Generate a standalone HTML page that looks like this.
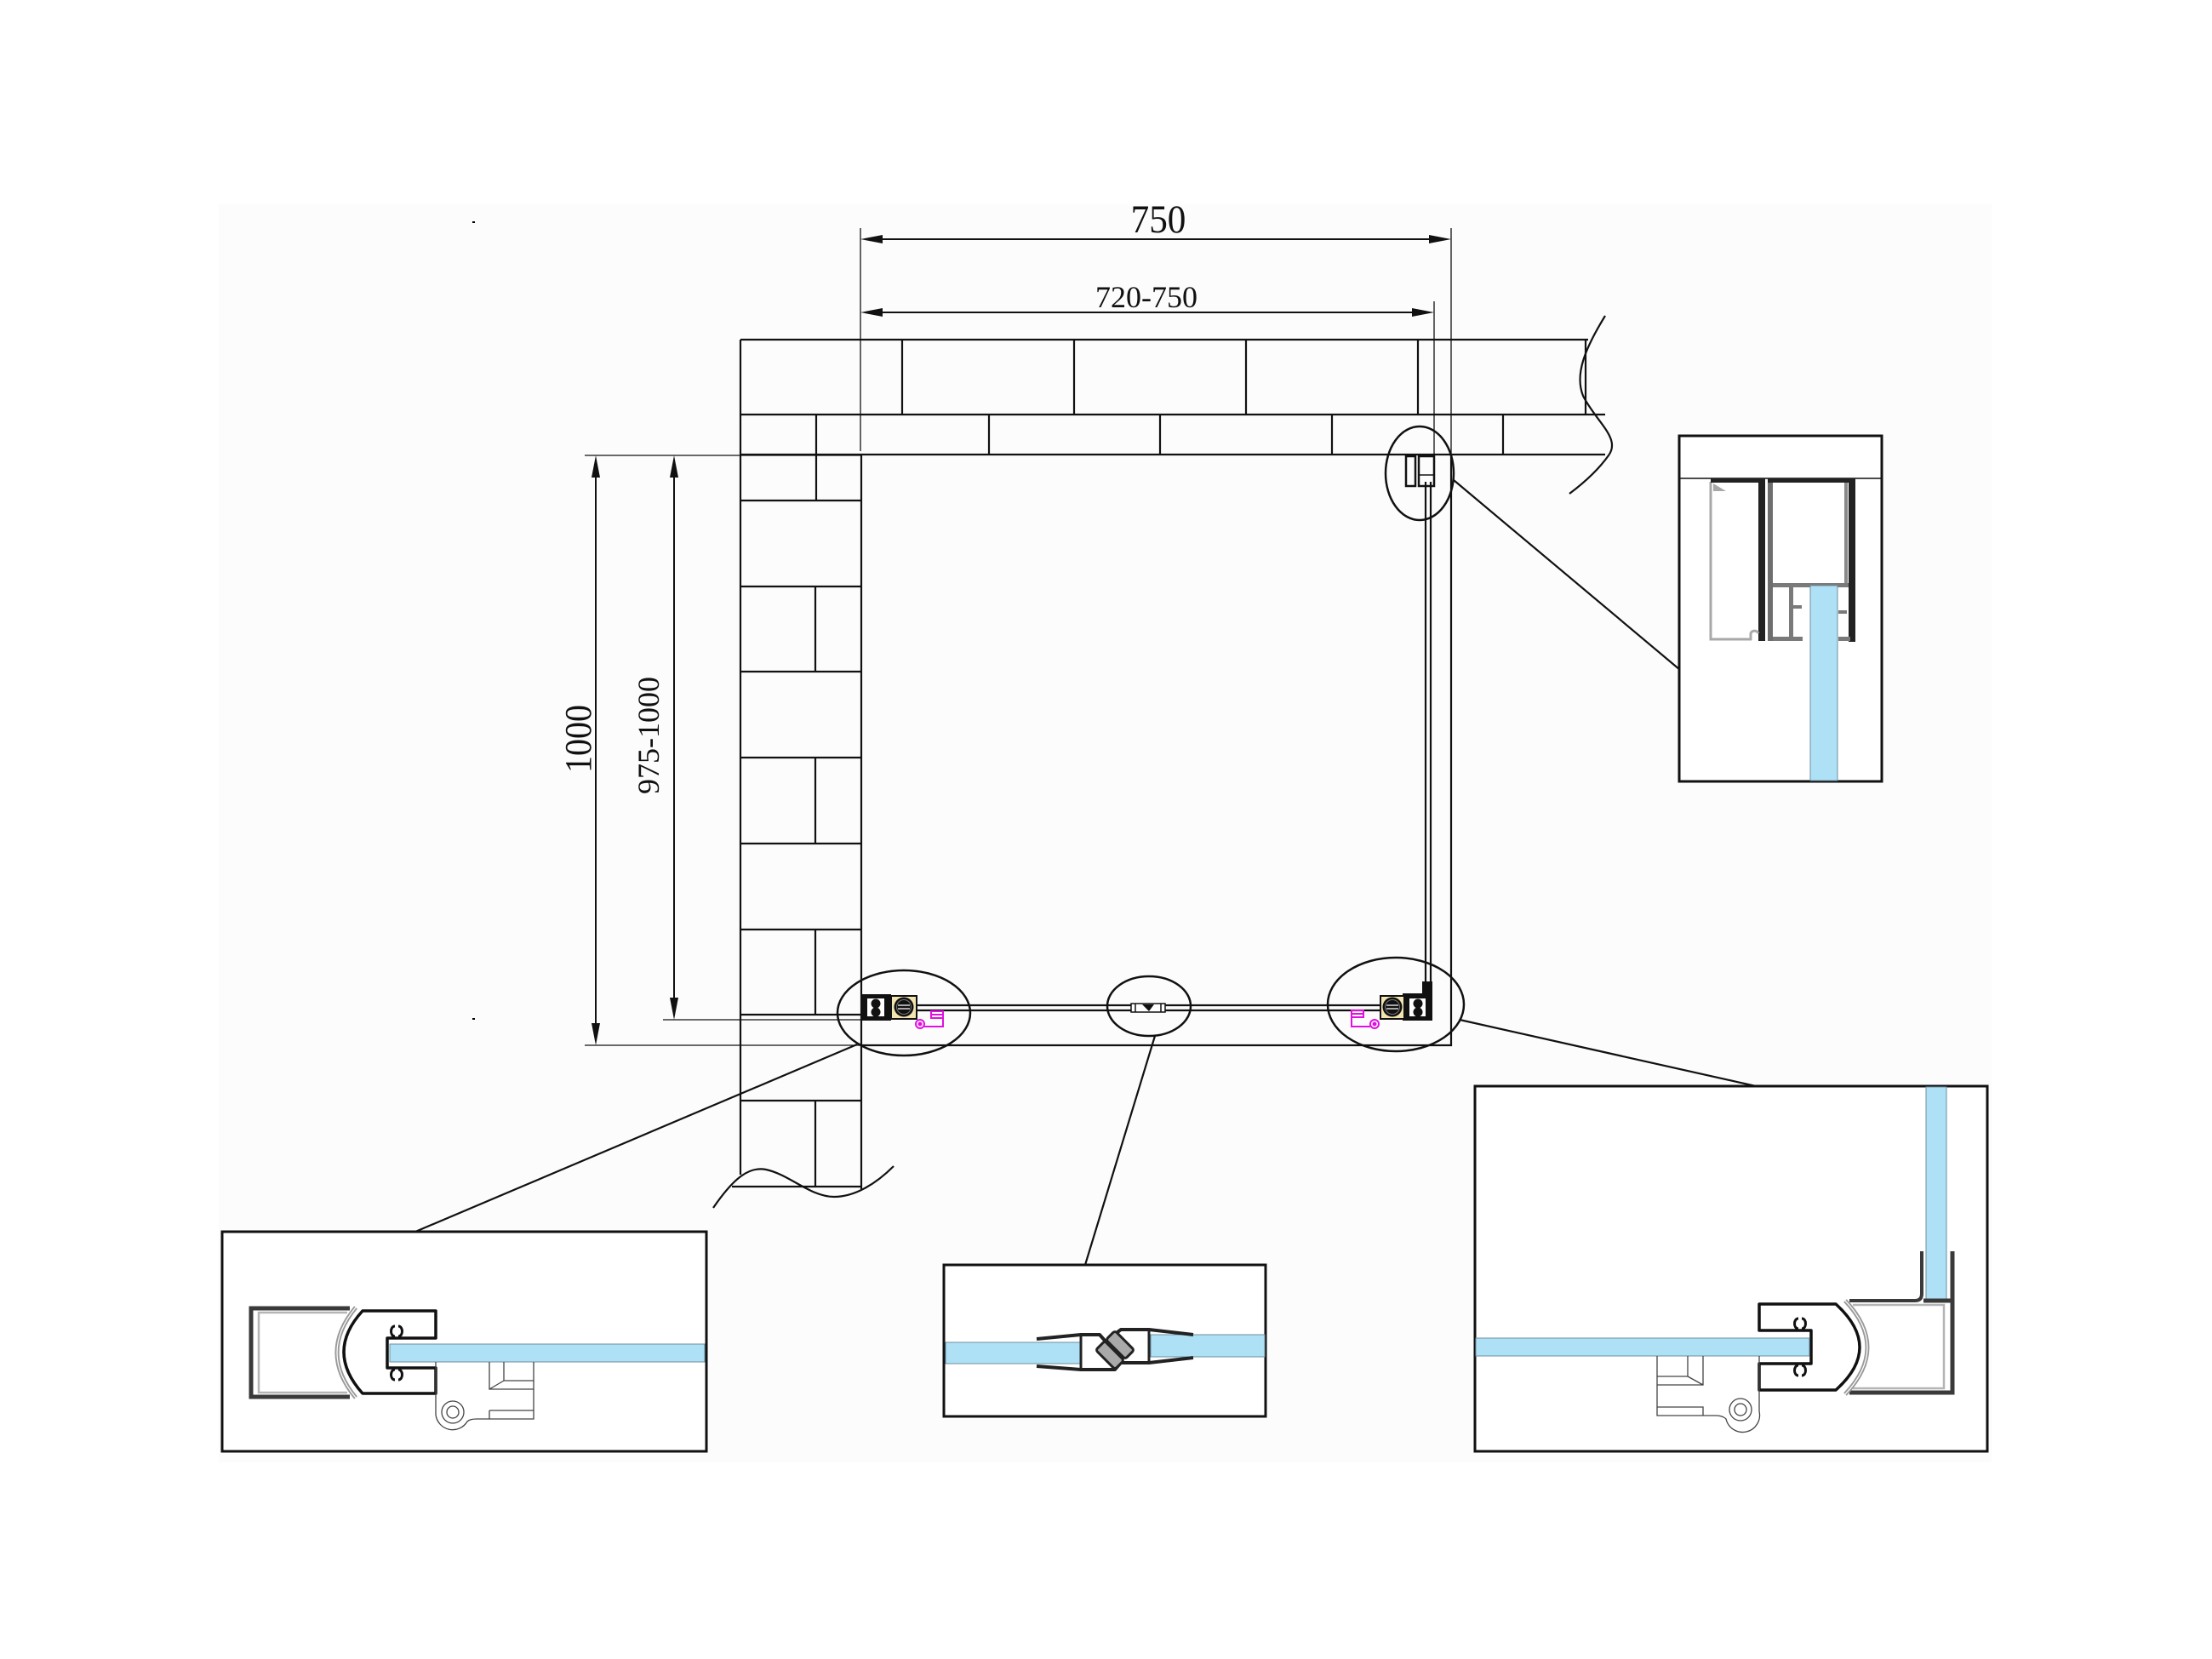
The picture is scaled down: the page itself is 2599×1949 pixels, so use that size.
<!DOCTYPE html>
<html><head><meta charset="utf-8"><style>
html,body{margin:0;padding:0;background:#fff;}
svg{display:block;}
</style></head><body>
<svg width="2599" height="1949" viewBox="0 0 2599 1949" xmlns="http://www.w3.org/2000/svg">
<rect width="2599" height="1949" fill="#ffffff"/>
<rect x="257" y="240" width="2083" height="1478" fill="#fcfcfc"/>
<rect x="555" y="260" width="3" height="2" fill="#000"/>
<rect x="555" y="1196" width="3" height="2" fill="#000"/>

<!-- WALLS -->
<g stroke="#111" stroke-width="2.2" fill="none">
  <path d="M870,399 H1866 M870,487 H1886 M870,534 H1886"/>
  <path d="M1060,399 V487 M1262,399 V487 M1464,399 V487 M1666,399 V487 M1863,399 V487"/>
  <path d="M959,487 V588 M1162,487 V534 M1363,487 V534 M1565,487 V534 M1766,487 V534"/>
  <path d="M870,399 V1380 M1012,534 V1397"/>
  <path d="M870,588 H1012 M870,689 H1012 M870,789 H1012 M870,890 H1012 M870,991 H1012 M870,1092 H1012 M870,1192 H1012 M870,1293 H1012 M860,1394 H1012"/>
  <path d="M958,689 V789 M958,890 V991 M958,1092 V1192 M958,1293 V1394"/>
  <!-- break curves -->
  <path d="M1886,371 C1862,410 1850,440 1860,465 C1875,495 1905,515 1890,535 C1878,552 1860,568 1844,580"/>
  <path d="M838,1419 C862,1384 880,1370 900,1374 C928,1380 952,1406 980,1406 C1005,1406 1030,1390 1050,1370"/>
  <!-- tray -->
  <path d="M1705,534 V1228 H1012"/>
</g>

<!-- DIMENSIONS -->
<g stroke="#111" fill="none">
  <path stroke-width="1.3" d="M1011,268 V530 M1705,268 V534 M1685,354 V534 M687,535 H1012 M687,1228 H1012 M779,1198 H1012"/>
  <path stroke-width="2" d="M1030,281 H1686 M1030,367 H1666 M700,555 V1208 M792,555 V1178"/>
</g>
<g fill="#111">
  <polygon points="1011,281 1037,276 1037,286"/>
  <polygon points="1705,281 1679,276 1679,286"/>
  <polygon points="1011,367 1037,362 1037,372"/>
  <polygon points="1685,367 1659,362 1659,372"/>
  <polygon points="700,535 695,561 705,561"/>
  <polygon points="700,1228 695,1202 705,1202"/>
  <polygon points="792,535 787,561 797,561"/>
  <polygon points="792,1198 787,1172 797,1172"/>
</g>
<g font-family="'Liberation Serif', serif" fill="#111" text-anchor="middle">
  <text transform="translate(1361,273) scale(0.92,1)" font-size="47">750</text>
  <text transform="translate(1347,361)" font-size="36">720-750</text>
  <text transform="translate(694,868) rotate(-90) scale(0.91,1)" font-size="44">1000</text>
  <text transform="translate(774,864) rotate(-90)" font-size="36">975-1000</text>
</g>

<!-- PLAN GLASS -->
<g stroke="#111" stroke-width="2.2" fill="none">
  <path d="M1077,1181 H1622 M1077,1187 H1622"/>
  <path d="M1675,566 V1153 M1681,566 V1153"/>
  <rect x="1652" y="536" width="11" height="35" stroke-width="2.5"/>
  <rect x="1667" y="536" width="18" height="35" stroke-width="2.5"/>
  <path d="M1668,558 H1684" stroke-width="1.5"/>
</g>

<!-- left plan fitting -->
<rect x="1012" y="1168" width="35" height="31" fill="#111"/>
<rect x="1019" y="1173" width="20" height="21" fill="#fff"/>
<circle cx="1029" cy="1179" r="5.5" fill="#111"/>
<circle cx="1029" cy="1189" r="5.5" fill="#111"/>
<rect x="1047" y="1170" width="30" height="27" fill="#f1e4b0" stroke="#111" stroke-width="2"/>
<circle cx="1062" cy="1183" r="11.5" fill="#111"/>
<circle cx="1062" cy="1183" r="8.5" fill="none" stroke="#777" stroke-width="1"/>
<path d="M1055,1181 H1069 M1055,1185 H1069" stroke="#fff" stroke-width="1.2"/>
<g stroke="#e010e0" stroke-width="2" fill="none">
  <circle cx="1081" cy="1203" r="5"/>
  <circle cx="1081" cy="1203" r="1.5" fill="#e010e0"/>
  <path d="M1086,1206 H1108 V1188 H1094 V1196 H1108 M1094,1192 H1108"/>
</g>
<!-- right plan fitting -->
<rect x="1648" y="1167" width="35" height="32" fill="#111"/>
<rect x="1671" y="1153" width="12" height="16" fill="#111"/>
<rect x="1656" y="1173" width="19" height="21" fill="#fff"/>
<circle cx="1666" cy="1179" r="5.5" fill="#111"/>
<circle cx="1666" cy="1189" r="5.5" fill="#111"/>
<rect x="1622" y="1170" width="28" height="27" fill="#f1e4b0" stroke="#111" stroke-width="2"/>
<circle cx="1636" cy="1183" r="11.5" fill="#111"/>
<circle cx="1636" cy="1183" r="8.5" fill="none" stroke="#777" stroke-width="1"/>
<path d="M1629,1181 H1643 M1629,1185 H1643" stroke="#fff" stroke-width="1.2"/>
<g stroke="#e010e0" stroke-width="2" fill="none">
  <circle cx="1615" cy="1203" r="5"/>
  <circle cx="1615" cy="1203" r="1.5" fill="#e010e0"/>
  <path d="M1610,1206 H1588 V1187 H1602 V1195 H1588 M1588,1191 H1602"/>
</g>
<!-- middle plan fitting -->
<g stroke="#111" stroke-width="1.5" fill="#fff">
  <rect x="1329" y="1179" width="40" height="10"/>
  <path d="M1334,1179 V1189 M1364,1179 V1189"/>
</g>
<path d="M1342,1180 L1350,1188 L1356,1180 Z" fill="#111"/>

<!-- ELLIPSES -->
<g stroke="#111" stroke-width="2.5" fill="none">
  <ellipse cx="1668" cy="556" rx="40" ry="55"/>
  <ellipse cx="1062" cy="1190" rx="78" ry="50"/>
  <ellipse cx="1350" cy="1182" rx="49" ry="35"/>
  <ellipse cx="1640" cy="1180" rx="80" ry="55"/>
</g>
<!-- CONNECTORS -->
<g stroke="#111" stroke-width="2.2">
  <line x1="1708" y1="564" x2="1974" y2="787"/>
  <line x1="1007" y1="1227" x2="488" y2="1447"/>
  <line x1="1357" y1="1217" x2="1275" y2="1486"/>
  <line x1="1715" y1="1198" x2="2063" y2="1276"/>
</g>

<!-- DETAIL BOXES -->
<g stroke="#111" stroke-width="3" fill="#fff">
  <rect x="1973" y="512" width="238" height="406"/>
  <rect x="261" y="1447" width="569" height="258"/>
  <rect x="1109" y="1486" width="378" height="178"/>
  <rect x="1733" y="1276" width="602" height="429"/>
</g>

<!-- TOP-RIGHT DETAIL -->
<line x1="1973" y1="562" x2="2211" y2="562" stroke="#111" stroke-width="1.5"/>
<g>
  <path d="M2010,566 V751 H2058" stroke="#a8a8a8" stroke-width="3" fill="none"/>
  <path d="M2013,568 L2028,577 L2013,577 Z" fill="#a8a8a8"/>
  <rect x="2010" y="562" width="64" height="5" fill="#222"/>
  <rect x="2066" y="562" width="8" height="191" fill="#222"/>
  <path d="M2057,752 V744 A5,5 0 0 1 2066,744" stroke="#a8a8a8" stroke-width="3" fill="none"/>
  <rect x="2077" y="562" width="6" height="191" fill="#6e6e6e"/>
  <rect x="2077" y="562" width="103" height="5" fill="#222"/>
  <rect x="2172" y="562" width="8" height="192" fill="#222"/>
  <rect x="2167" y="567" width="4" height="120" fill="#8a8a8a"/>
  <rect x="2083" y="685" width="89" height="5" fill="#7a7a7a"/>
  <rect x="2102" y="690" width="5" height="62" fill="#7a7a7a"/>
  <rect x="2107" y="711" width="10" height="4" fill="#7a7a7a"/>
  <rect x="2083" y="748" width="35" height="5" fill="#7a7a7a"/>
  <rect x="2160" y="748" width="14" height="5" fill="#7a7a7a"/>
  <rect x="2160" y="717" width="10" height="4" fill="#7a7a7a"/>
  <rect x="2127" y="688" width="32" height="229" fill="#aee0f6" stroke="#6f8f9f" stroke-width="1"/>
</g>

<!-- BOTTOM-LEFT DETAIL -->
<g>
  <path d="M411,1537 H295 V1641 H411" stroke="#3a3a3a" stroke-width="5" fill="none"/>
  <path d="M408,1542 H304 V1636 H408" stroke="#b5b5b5" stroke-width="2.5" fill="none"/>
  <path d="M418,1536 Q374,1589 418,1642" stroke="#9a9a9a" stroke-width="5" fill="none"/>
  <path d="M418,1536 Q374,1589 418,1642" stroke="#fff" stroke-width="1.2" fill="none"/>
  <path d="M426,1540 H512 V1572 H455 V1607 H512 V1637 H426 Q382,1588 426,1540 Z" fill="#fff" stroke="#111" stroke-width="3.5" stroke-linejoin="round"/>
  <rect x="458" y="1579" width="370" height="21" fill="#aee0f6" stroke="#6f8f9f" stroke-width="1"/>
  <g stroke="#111" stroke-width="3" fill="none">
    <path d="M464,1558 C458,1558 458,1570 464,1570 M468,1558 C474,1558 474,1570 468,1570"/>
    <path d="M464,1609 C458,1609 458,1621 464,1621 M468,1609 C474,1609 474,1621 468,1621"/>
  </g>
  <g stroke="#444" stroke-width="1.3" fill="none">
    <path d="M512,1600 V1662 A20,20 0 0 0 549,1670 Q552,1667 560,1667 H627 V1600"/>
    <circle cx="532" cy="1659" r="13"/>
    <circle cx="532" cy="1659" r="7"/>
    <path d="M575,1600 V1632 H627 M592,1600 V1622 H627 M575,1632 L592,1622 M575,1657 H627 M575,1657 V1667"/>
  </g>
</g>

<!-- MIDDLE DETAIL -->
<g>
  <rect x="1111" y="1577" width="158" height="25" fill="#aee0f6" stroke="#6f8f9f" stroke-width="1"/>
  <rect x="1352" y="1568" width="134" height="26" fill="#aee0f6" stroke="#6f8f9f" stroke-width="1"/>
  <g stroke="#222" stroke-width="4" fill="none" stroke-linejoin="round">
    <path d="M1218,1573 L1270,1568 H1292 L1300,1577"/>
    <path d="M1218,1605 L1270,1609 H1310 L1316,1602"/>
    <path d="M1270,1568 V1609" stroke-width="3"/>
    <path d="M1305,1571 L1317,1562 H1350 L1402,1568"/>
    <path d="M1318,1601 H1350 L1402,1595"/>
    <path d="M1350,1562 V1601" stroke-width="3"/>
  </g>
  <g transform="rotate(-45 1310 1586)" stroke="#222" stroke-width="3" fill="#a9a9a9">
    <rect x="1294" y="1570" width="15" height="32" rx="3"/>
    <rect x="1311" y="1570" width="15" height="32" rx="3"/>
  </g>
</g>

<!-- BOTTOM-RIGHT DETAIL -->
<g>
  <rect x="2263" y="1277" width="24" height="250" fill="#aee0f6" stroke="#6f8f9f" stroke-width="1"/>
  <path d="M2258,1470 V1520 Q2258,1528 2250,1528 H2173" stroke="#3a3a3a" stroke-width="4" fill="none"/>
  <path d="M2260,1528 H2294 M2294,1470 V1636 H2173" stroke="#3a3a3a" stroke-width="5" fill="none"/>
  <path d="M2177,1533 H2284 V1631 H2177" stroke="#b5b5b5" stroke-width="2.5" fill="none"/>
  <path d="M2168,1528 Q2220,1583 2168,1638" stroke="#9a9a9a" stroke-width="5" fill="none"/>
  <path d="M2168,1528 Q2220,1583 2168,1638" stroke="#fff" stroke-width="1.2" fill="none"/>
  <path d="M2157,1532 H2067 V1563 H2128 V1602 H2067 V1633 H2157 Q2213,1583 2157,1532 Z" fill="#fff" stroke="#111" stroke-width="3.5" stroke-linejoin="round"/>
  <rect x="1734" y="1572" width="392" height="21" fill="#aee0f6" stroke="#6f8f9f" stroke-width="1"/>
  <g stroke="#111" stroke-width="3" fill="none">
    <path d="M2113,1549 C2107,1549 2107,1561 2113,1561 M2117,1549 C2123,1549 2123,1561 2117,1561"/>
    <path d="M2113,1604 C2107,1604 2107,1616 2113,1616 M2117,1604 C2123,1604 2123,1616 2117,1616"/>
  </g>
  <g stroke="#444" stroke-width="1.3" fill="none">
    <path d="M2067,1593 V1658 A20,20 0 0 1 2028,1667 Q2024,1663 2016,1663 H1947 V1593"/>
    <circle cx="2045" cy="1656" r="13"/>
    <circle cx="2045" cy="1656" r="7"/>
    <path d="M2001,1593 V1627 H1947 M1983,1593 V1617 H1947 M2001,1627 L1983,1617 M1947,1653 H2001 V1663"/>
  </g>
</g>
</svg>
</body></html>
